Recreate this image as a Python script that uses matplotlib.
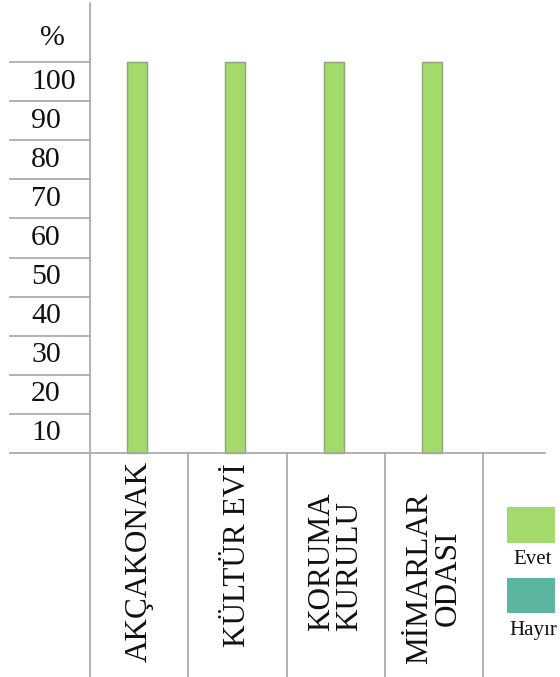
import matplotlib
matplotlib.use("Agg")
import matplotlib.pyplot as plt
from matplotlib.patches import Rectangle

# ---- data ----
categories = ["AKÇAKONAK", "KÜLTÜR EVİ", "KORUMA\nKURULU", "MİMARLAR\nODASI"]
series_names = ["Evet", "Hayır"]
evet = [100, 100, 100, 100]
hayir = [0, 0, 0, 0]
y_ticks = [10, 20, 30, 40, 50, 60, 70, 80, 90, 100]
y_unit_label = "%"

# ---- style / layout ----
W, H = 560, 677
DPI = 100
green = "#a3da6b"
green_edge = "#8aa676"
teal = "#5bb5a1"
grid = "#a6a6a6"
font = "Liberation Serif"
label_centers_px = [562, 555, 562, 578]
label_align = ["center", "center", "left", "center"]

fig = plt.figure(figsize=(W / DPI, H / DPI), dpi=DPI)

def fx(px):
    return px / W

def fy(py):
    return 1 - py / H

ax_left, ax_right, ax_top = 90, 545, 3
base_py = 453
unit_px = 3.91
col_px = 98.25

ax = fig.add_axes([fx(ax_left), 0, fx(ax_right) - fx(ax_left), fy(ax_top)])
x0 = -0.5
ax.set_xlim(x0, x0 + (ax_right - ax_left) / col_px)
ax.set_ylim((base_py - H) / unit_px, (base_py - ax_top) / unit_px)
for s in ["top", "right", "bottom"]:
    ax.spines[s].set_visible(False)
ax.spines["left"].set_color(grid)
ax.spines["left"].set_linewidth(1.2)
ax.set_xticks([])
ax.set_yticks([])

# bars
xs = list(range(len(categories)))
bw = 0.205
ax.bar([x - 0.02 for x in xs], evet, width=bw, color=green, edgecolor=green_edge,
       linewidth=1.0, zorder=3)
ax.bar([x - 0.02 + bw for x in xs], hayir, width=bw, color=teal, edgecolor="none",
       linewidth=0, zorder=3)

# left label column lines
left_x = x0 - (ax_left - 10) / col_px
for v in y_ticks:
    ax.plot([left_x, x0], [v, v], color=grid, lw=1.2, clip_on=False)
    ax.text(x0 - (ax_left - 31) / col_px, v - 5, str(v), ha="left", va="center",
            fontsize=21.5, family=font, color="#111111", clip_on=False)
ax.text(x0 - (ax_left - 52) / col_px, (base_py - 38) / unit_px, y_unit_label,
        ha="center", va="center", fontsize=21.5, family=font, color="#111111",
        clip_on=False)

# baseline
ax.plot([left_x, ax.get_xlim()[1]], [0, 0], color=grid, lw=1.2, clip_on=False, zorder=4)

# column separators below baseline
ybot = ax.get_ylim()[0]
for i in range(len(categories)):
    ax.plot([i + 0.5, i + 0.5], [0, ybot], color=grid, lw=1.2, clip_on=False)

# category labels
for i, c in enumerate(categories):
    ax.text(i, (base_py - label_centers_px[i]) / unit_px, c, rotation=90,
            ha="center", va="center", fontsize=22.5, family=font, color="#111111",
            linespacing=0.95, multialignment=label_align[i])

# legend (manual, squares above text)
legend_items = [(series_names[0], green, 507, 543, 559), (series_names[1], teal, 578, 613, 630)]
for name, col, top, bot, ty in legend_items:
    fig.add_artist(Rectangle((fx(507), fy(bot)), fx(555) - fx(507), fy(top) - fy(bot),
                             transform=fig.transFigure, facecolor=col, edgecolor="none"))
    fig.text(fx(533), fy(ty), name, ha="center", va="center", fontsize=15,
             family=font, color="#111111")

fig.savefig("out.png", dpi=DPI)
